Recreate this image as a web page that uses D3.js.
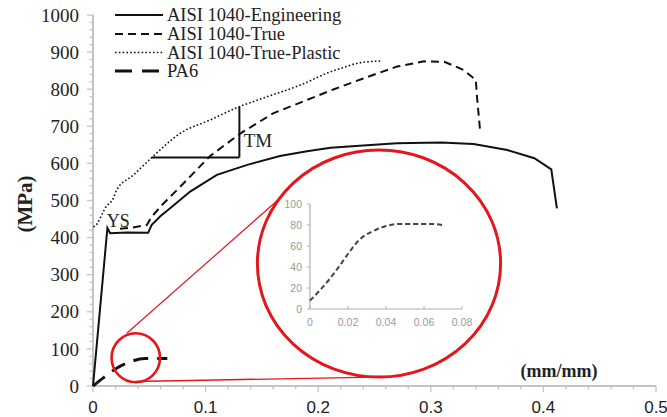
<!DOCTYPE html>
<html><head><meta charset="utf-8">
<script src="https://cdn.jsdelivr.net/npm/d3@7"></script>
<style>html,body{margin:0;padding:0;background:#fff;}svg{display:block;}</style>
</head><body>
<svg id="c" width="667" height="417"></svg>
<script>
// ---- data ----
const engX = [0, 0.006, 0.0128, 0.0152, 0.03, 0.049, 0.052, 0.06, 0.0685, 0.0863, 0.11, 0.137, 0.166, 0.19, 0.211, 0.24, 0.27, 0.309, 0.338, 0.368, 0.392, 0.407, 0.412];
const engY = [0, 200, 426, 412, 414, 413, 434, 458, 479, 524, 569, 596, 620, 633, 642, 648, 654, 656, 652, 636, 614, 584, 479];
const trueX = [0.024, 0.035, 0.0478, 0.052, 0.0626, 0.0745, 0.089, 0.104, 0.131, 0.16, 0.19, 0.214, 0.24, 0.27, 0.294, 0.312, 0.329, 0.34, 0.341, 0.344];
const trueY = [424, 427, 434, 456, 492, 528, 573, 620, 681, 735, 771, 800, 829, 861, 875, 874, 852, 825, 780, 681];
const plasX = [0.0003, 0.0018, 0.0092, 0.0107, 0.018, 0.021, 0.036, 0.052, 0.0774, 0.104, 0.13, 0.155, 0.184, 0.211, 0.22, 0.235, 0.255];
const plasY = [429, 431, 470, 479, 506, 528, 569, 615, 681, 717, 753, 780, 811, 847, 856, 870, 876];
const pa6X = [0, 0.01, 0.021, 0.033, 0.046, 0.066];
const pa6Y = [0, 24, 48, 65, 74, 74];
const insetX = [0, 0.0053, 0.0114, 0.0167, 0.021, 0.026, 0.033, 0.04, 0.047, 0.056, 0.063, 0.07];
const insetY = [8, 18, 31, 44, 55, 66, 74, 79, 81, 81, 81, 80];
const xTicks = [0, 0.1, 0.2, 0.3, 0.4, 0.5];
const xTickLabels = ["0", "0.1", "0.2", "0.3", "0.4", "0.5"];
const yTicks = [0, 100, 200, 300, 400, 500, 600, 700, 800, 900, 1000];
const insetXTicks = [0, 0.02, 0.04, 0.06, 0.08];
const insetXLabels = ["0", "0.02", "0.04", "0.06", "0.08"];
const insetYTicks = [0, 20, 40, 60, 80, 100];
const legendNames = ["AISI 1040-Engineering", "AISI 1040-True", "AISI 1040-True-Plastic", "PA6"];
// annotations (data units)
const tmH = {x1: 0.052, x2: 0.13, y: 616};
const tmV = {x: 0.13, y1: 616, y2: 753};
const smallCircle = {cx: 0.038, cy: 76, rx: 0.0215, ry: 66};
const bigCircle = {cx: 0.254, cy: 330, rx: 0.108, ry: 306};
const link1 = {x1: 0.030, y1: 142, x2: 0.166, y2: 506};
const link2 = {x1: 0.0374, y1: 12, x2: 0.25, y2: 24};

// ---- layout ----
const svg = d3.select("#c");
const x = d3.scaleLinear().domain([0, 0.5]).range([93, 656]);
const y = d3.scaleLinear().domain([0, 1000]).range([386, 15]);
const serif = "'Liberation Serif','Times New Roman',serif";
const sans = "'Liberation Sans',Arial,sans-serif";
const axisCol = "#c4c4c4";

// axes
const g = svg.append("g");
g.append("line").attr("x1", x(0)).attr("x2", x(0)).attr("y1", y(0)).attr("y2", y(1000))
  .attr("stroke", axisCol).attr("stroke-width", 2);
g.append("line").attr("x1", x(0)).attr("x2", x(0.5)).attr("y1", y(0)).attr("y2", y(0))
  .attr("stroke", axisCol).attr("stroke-width", 2);
// y minor / major ticks
d3.range(0, 1001, 20).forEach(v => {
  const major = v % 100 === 0;
  g.append("line").attr("x1", x(0) - (major ? 6 : 3.5)).attr("x2", x(0)).attr("y1", y(v)).attr("y2", y(v))
    .attr("stroke", axisCol).attr("stroke-width", 1.3);
});
d3.range(0, 26).forEach(i => {
  const v = i * 0.02;
  const major = i % 5 === 0;
  g.append("line").attr("x1", x(v)).attr("x2", x(v)).attr("y1", y(0)).attr("y2", y(0) + (major ? 6 : 3.5))
    .attr("stroke", axisCol).attr("stroke-width", 1.3);
});
g.selectAll("text.yt").data(yTicks).enter().append("text")
  .attr("x", 79).attr("y", d => y(d)).attr("dy", "0.35em").attr("text-anchor", "end")
  .attr("font-family", serif).attr("font-size", 19).attr("fill", "#222").text(d => d);
g.selectAll("text.xt").data(xTicks).enter().append("text")
  .attr("x", d => x(d)).attr("y", 413).attr("text-anchor", "middle")
  .attr("font-family", sans).attr("font-size", 17).attr("fill", "#222").text((d, i) => xTickLabels[i]);
// axis titles
svg.append("text").attr("transform", "translate(32,204) rotate(-90)").attr("text-anchor", "middle")
  .attr("font-family", serif).attr("font-weight", "bold").attr("font-size", 21).attr("fill", "#222").text("(MPa)");
svg.append("text").attr("x", 559).attr("y", 377).attr("text-anchor", "middle")
  .attr("font-family", serif).attr("font-weight", "bold").attr("font-size", 18).attr("fill", "#222").text("(mm/mm)");

// curves
const line = d3.line().x(d => x(d[0])).y(d => y(d[1])).curve(d3.curveMonotoneX);
const lineL = d3.line().x(d => x(d[0])).y(d => y(d[1])).curve(d3.curveLinear);
const zip = (a, b) => a.map((v, i) => [v, b[i]]);
svg.append("path").attr("d", line(zip(plasX, plasY))).attr("fill", "none").attr("stroke", "#111")
  .attr("stroke-width", 1.6).attr("stroke-dasharray", "1.6,2.2");
svg.append("path").attr("d", lineL(zip(trueX, trueY))).attr("fill", "none").attr("stroke", "#111")
  .attr("stroke-width", 2).attr("stroke-dasharray", "8,5");
svg.append("path").attr("d", lineL(zip(engX, engY))).attr("fill", "none").attr("stroke", "#111")
  .attr("stroke-width", 2);
svg.append("path").attr("d", line(zip(pa6X, pa6Y))).attr("fill", "none").attr("stroke", "#111")
  .attr("stroke-width", 3).attr("stroke-dasharray", "15,9");

// TM lines + labels
svg.append("line").attr("x1", x(tmH.x1)).attr("x2", x(tmH.x2)).attr("y1", y(tmH.y)).attr("y2", y(tmH.y))
  .attr("stroke", "#111").attr("stroke-width", 2);
svg.append("line").attr("x1", x(tmV.x)).attr("x2", x(tmV.x)).attr("y1", y(tmV.y1)).attr("y2", y(tmV.y2))
  .attr("stroke", "#111").attr("stroke-width", 2);
svg.append("text").attr("x", x(0.1338)).attr("y", y(645)).attr("font-family", serif).attr("font-size", 19)
  .attr("fill", "#222").text("TM");
svg.append("text").attr("x", x(0.0122)).attr("y", y(429)).attr("font-family", serif).attr("font-size", 18)
  .attr("fill", "#222").text("YS");

// red annotation
const red = "#e3171c";
svg.append("line").attr("x1", x(link1.x1)).attr("y1", y(link1.y1)).attr("x2", x(link1.x2)).attr("y2", y(link1.y2))
  .attr("stroke", red).attr("stroke-width", 1.2);
svg.append("line").attr("x1", x(link2.x1)).attr("y1", y(link2.y1)).attr("x2", x(link2.x2)).attr("y2", y(link2.y2))
  .attr("stroke", red).attr("stroke-width", 1.4);
svg.append("ellipse").attr("cx", x(smallCircle.cx)).attr("cy", y(smallCircle.cy))
  .attr("rx", x(smallCircle.rx) - x(0)).attr("ry", y(0) - y(smallCircle.ry))
  .attr("fill", "none").attr("stroke", red).attr("stroke-width", 2.6);
svg.append("ellipse").attr("cx", x(bigCircle.cx)).attr("cy", y(bigCircle.cy))
  .attr("rx", x(bigCircle.rx) - x(0)).attr("ry", y(0) - y(bigCircle.ry))
  .attr("fill", "none").attr("stroke", red).attr("stroke-width", 3);

// inset chart
const ix = d3.scaleLinear().domain([0, 0.08]).range([310, 462]);
const iy = d3.scaleLinear().domain([0, 100]).range([309, 204]);
const ig = svg.append("g");
const iCol = "#b0b0b0";
ig.append("line").attr("x1", ix(0)).attr("x2", ix(0)).attr("y1", iy(0)).attr("y2", iy(100)).attr("stroke", iCol).attr("stroke-width", 1.2);
ig.append("line").attr("x1", ix(0)).attr("x2", ix(0.08)).attr("y1", iy(0)).attr("y2", iy(0)).attr("stroke", iCol).attr("stroke-width", 1.2);
insetYTicks.forEach(v => {
  ig.append("line").attr("x1", ix(0) - 3).attr("x2", ix(0)).attr("y1", iy(v)).attr("y2", iy(v)).attr("stroke", iCol);
});
insetXTicks.forEach(v => {
  ig.append("line").attr("x1", ix(v)).attr("x2", ix(v)).attr("y1", iy(0)).attr("y2", iy(0) - 3).attr("stroke", iCol);
});
ig.selectAll("text.iy").data(insetYTicks).enter().append("text")
  .attr("x", 302).attr("y", d => iy(d)).attr("dy", "0.35em").attr("text-anchor", "end")
  .attr("font-family", sans).attr("font-size", 10.5).attr("fill", "#999").text(d => d);
ig.selectAll("text.ix").data(insetXTicks).enter().append("text")
  .attr("x", d => ix(d)).attr("y", 326).attr("text-anchor", "middle")
  .attr("font-family", sans).attr("font-size", 10.5).attr("fill", "#999").text((d, i) => insetXLabels[i]);
const iline = d3.line().x(d => ix(d[0])).y(d => iy(d[1])).curve(d3.curveMonotoneX);
ig.append("path").attr("d", iline(zip(insetX, insetY))).attr("fill", "none").attr("stroke", "#444")
  .attr("stroke-width", 2).attr("stroke-dasharray", "5,3");

// legend
const legStyles = [
  {dash: null, w: 2}, {dash: "8,5", w: 2}, {dash: "1.6,2.2", w: 1.6}, {dash: "17,10", w: 3}
];
const legY = [15, 34, 52.5, 71];
legendNames.forEach((n, i) => {
  const l = svg.append("line").attr("x1", 115).attr("x2", 163).attr("y1", legY[i]).attr("y2", legY[i])
    .attr("stroke", "#111").attr("stroke-width", legStyles[i].w);
  if (legStyles[i].dash) l.attr("stroke-dasharray", legStyles[i].dash);
  svg.append("text").attr("x", 167).attr("y", legY[i]).attr("dy", "0.35em")
    .attr("font-family", serif).attr("font-size", 18.5).attr("fill", "#222").text(n);
});
</script>
</body></html>
